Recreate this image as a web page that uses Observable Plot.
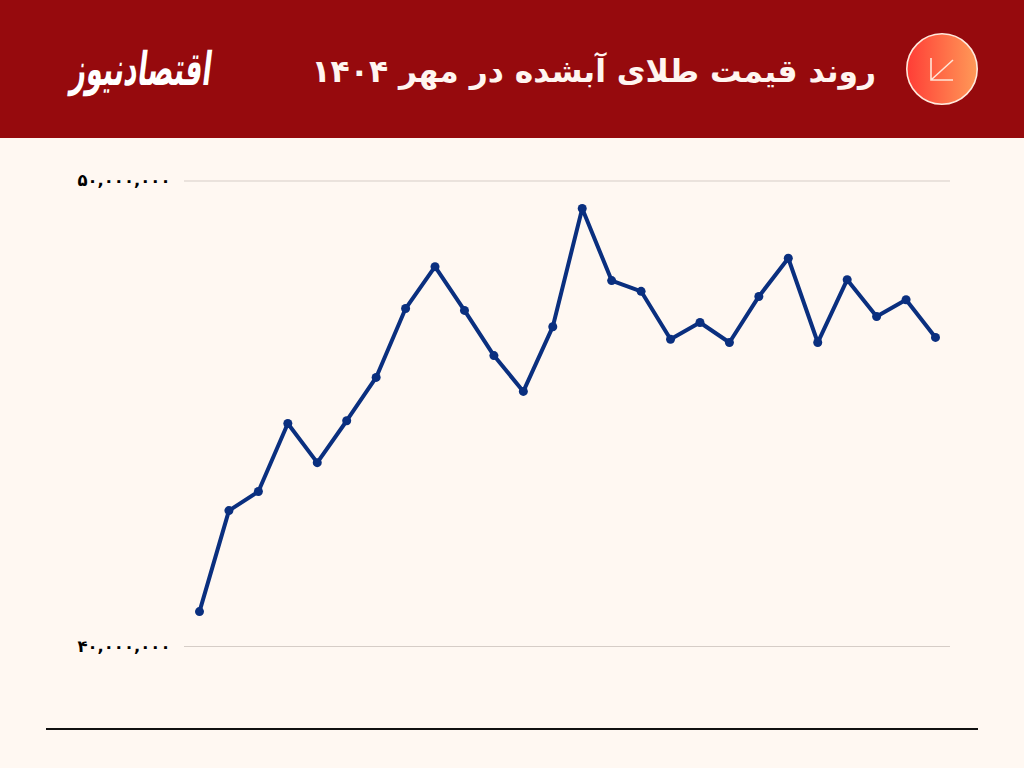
<!DOCTYPE html>
<html lang="fa">
<head>
<meta charset="utf-8">
<script src="https://cdn.jsdelivr.net/npm/d3@7"></script>
<script src="https://cdn.jsdelivr.net/npm/@observablehq/plot@0.6"></script>
<style>
  html, body { margin: 0; padding: 0; width: 1024px; height: 768px; overflow: hidden; background: #fff8f2; }
  #page { position: relative; width: 1024px; height: 768px; background: #fff8f2; font-family: "DejaVu Sans", sans-serif; }
  #head { position: absolute; left: 0; top: 0; width: 1024px; height: 138px; background: #960a0d; }
  #title { position: absolute; right: 148px; top: 48px; margin: 0; direction: rtl; white-space: nowrap; color: #fff5f0; font: 700 31.4px/46px "DejaVu Sans", sans-serif; }
  #logo { position: absolute; left: 30px; top: 36px; width: 224px; text-align: center; direction: rtl; white-space: nowrap; color: #fff; font: 700 31px/64px "DejaVu Sans", sans-serif; transform: scale(0.86, 1.5) skewX(-12deg); }
  #badge { position: absolute; left: 906px; top: 33px; }
  #chart { position: absolute; left: 0; top: 138px; }
  #base { position: absolute; left: 46px; top: 728px; width: 932px; height: 2px; background: #111; }
</style>
</head>
<body>
<div id="page">
  <div id="head">
    <h1 id="title">روند قیمت طلای آبشده در مهر ۱۴۰۴</h1>
    <div id="logo">اقتصادنیوز</div>
    <svg id="badge" width="72" height="72" viewBox="0 0 72 72">
      <defs><linearGradient id="g"><stop offset="0" stop-color="#ff3d36"/><stop offset="1" stop-color="#ff9a58"/></linearGradient></defs>
      <circle cx="36" cy="36" r="35.2" fill="url(#g)" stroke="#ffeadd" stroke-width="1.6"/>
      <path d="M47 27 L25 47 M25 25 V47 H47" fill="none" stroke="#ffe6d8" stroke-width="1.6"/>
    </svg>
  </div>
  <div id="chart"></div>
  <div id="base"></div>
</div>
<script>
const days = [1,2,3,4,5,6,7,8,9,10,11,12,13,14,15,16,17,18,19,20,21,22,23,24,25,26];
const prices = [40750000,42920000,43330000,44790000,43950000,44850000,45780000,47260000,48160000,47220000,46250000,45480000,46870000,49410000,47860000,47630000,46600000,46960000,46530000,47520000,48340000,46530000,47880000,47090000,47450000,46640000];
const yTicks = [40000000, 50000000];
const persian = "۰۱۲۳۴۵۶۷۸۹";
const toPersian = (n) => d3.format(",")(n).replace(/\d/g, (d) => persian[+d]);
const rows = days.map((day, i) => ({day, price: prices[i]}));

const chart = Plot.plot({
  width: 1024,
  height: 630,
  marginTop: 42.5,
  marginBottom: 122,
  marginLeft: 184,
  marginRight: 74,
  style: {background: "transparent", overflow: "visible"},
  x: {domain: [1, 26], insetLeft: 15, insetRight: 15, axis: null},
  y: {domain: [40000000, 50000000], axis: null},
  marks: [
    Plot.ruleY(yTicks, {stroke: "#d6cdc7", strokeWidth: 1}),
    Plot.axisY({ticks: yTicks, tickSize: 0, tickPadding: 14, tickFormat: toPersian, fontSize: 16.5, fontWeight: 700, fontFamily: "DejaVu Sans", fill: "#000", label: null}),
    Plot.line(rows, {x: "day", y: "price", stroke: "#0a2f7f", strokeWidth: 4, strokeLinejoin: "miter"}),
    Plot.dot(rows, {x: "day", y: "price", r: 4.5, fill: "#0a2f7f"})
  ]
});
document.getElementById("chart").appendChild(chart);
</script>
</body>
</html>
